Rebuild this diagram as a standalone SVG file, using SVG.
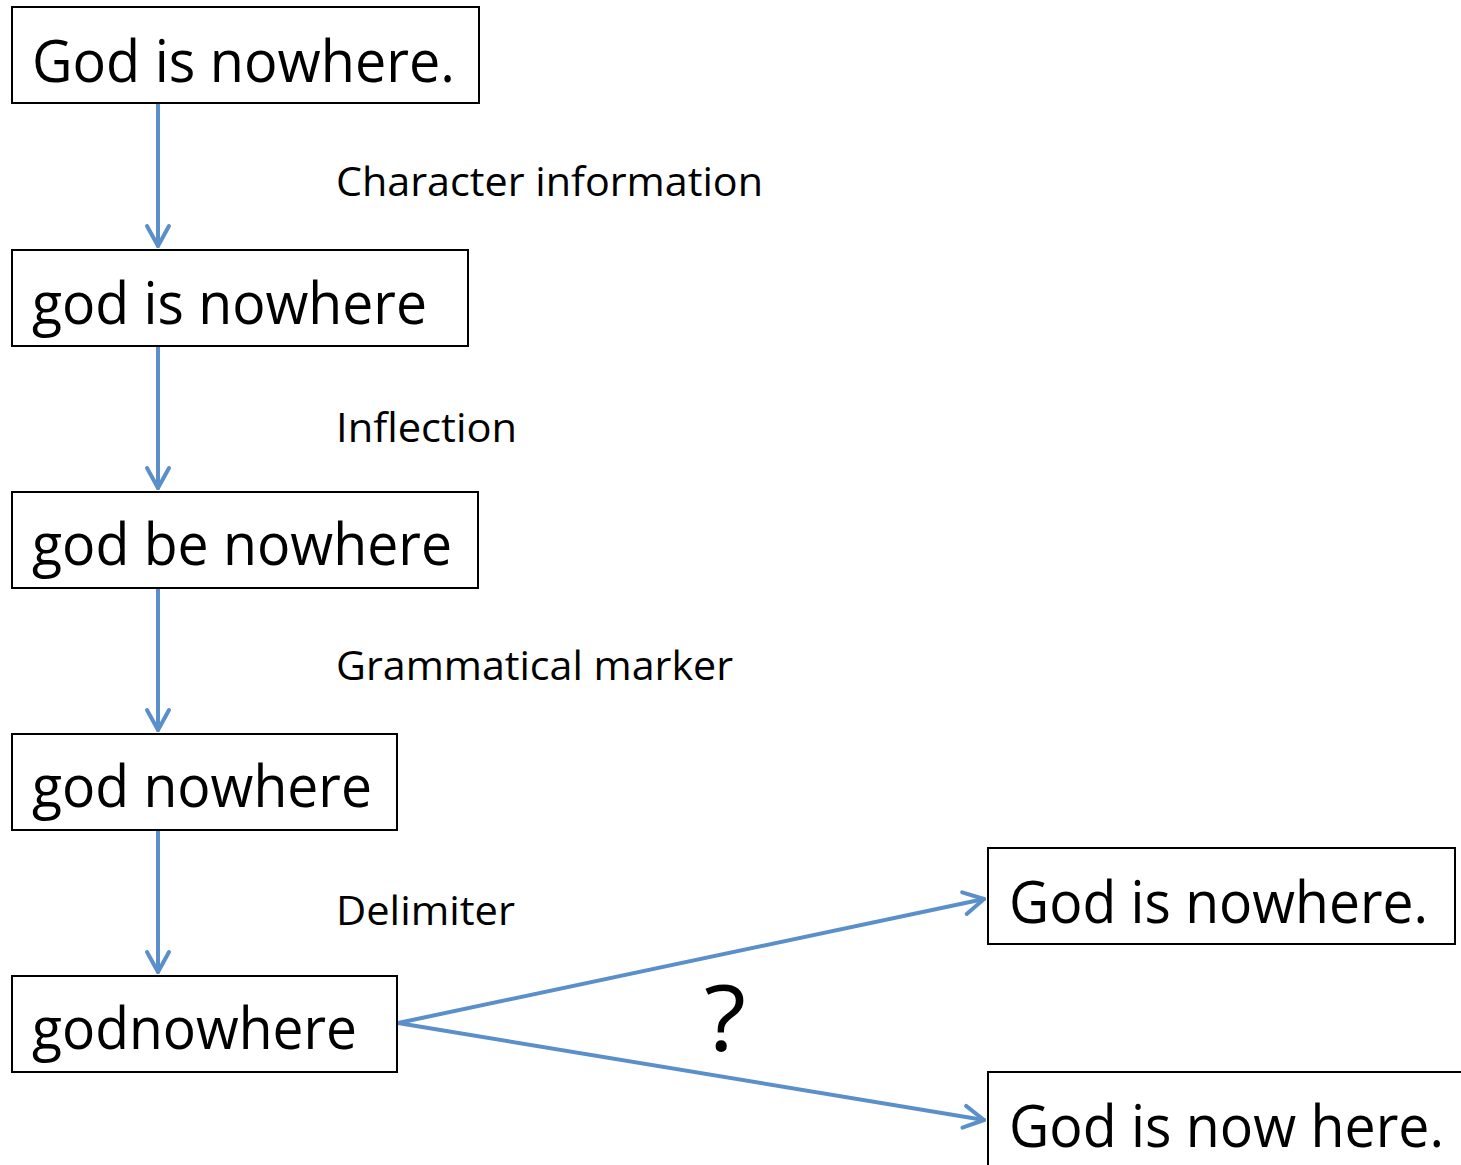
<svg xmlns="http://www.w3.org/2000/svg" width="1461" height="1165" viewBox="0 0 1461 1165">
<style>
.box{fill:#fff;stroke:#000;stroke-width:2}
.t{font-family:"Open Sans","Noto Sans","Liberation Sans",sans-serif;font-size:58px;fill:#000}
.l{font-family:"Open Sans","Noto Sans","Liberation Sans",sans-serif;font-size:41px;fill:#000}
.c{fill:none;stroke:#5b8fc9;stroke-width:4;stroke-linecap:round}
</style>
<defs>
<marker id="ah" viewBox="0 0 14 14" refX="12" refY="7" markerWidth="14" markerHeight="14" markerUnits="userSpaceOnUse" orient="auto">
<path d="M1,1 L12,7 L1,13" fill="none" stroke="#5b8fc9" stroke-width="1" stroke-linecap="round" stroke-linejoin="round"/>
</marker>
<marker id="a" viewBox="-24 -14 28 28" refX="0" refY="0" markerWidth="28" markerHeight="28" markerUnits="userSpaceOnUse" orient="auto">
<path d="M-20,-11 L0,0 L-20,11" fill="none" stroke="#5b8fc9" stroke-width="4" stroke-linecap="round" stroke-linejoin="round"/>
</marker>
</defs>
<g id="connectors">
<line class="c" x1="158" y1="104" x2="158" y2="246" marker-end="url(#a)"/>
<line class="c" x1="158" y1="347" x2="158" y2="488" marker-end="url(#a)"/>
<line class="c" x1="158" y1="589" x2="158" y2="730" marker-end="url(#a)"/>
<line class="c" x1="158" y1="831" x2="158" y2="972" marker-end="url(#a)"/>
<line class="c" x1="398" y1="1023" x2="984" y2="899" marker-end="url(#a)"/>
<line class="c" x1="398" y1="1023" x2="984" y2="1120" marker-end="url(#a)"/>
</g>
<g id="labels">
<text class="l" x="336" y="196" textLength="427" lengthAdjust="spacingAndGlyphs">Character information</text>
<text class="l" x="336" y="442" textLength="181" lengthAdjust="spacingAndGlyphs">Inflection</text>
<text class="l" x="336" y="680" textLength="397" lengthAdjust="spacingAndGlyphs">Grammatical marker</text>
<text class="l" x="336" y="925" textLength="179" lengthAdjust="spacingAndGlyphs">Delimiter</text>
<text x="704" y="1051" style="font-family:'Open Sans','Noto Sans',sans-serif;font-size:92px" textLength="42" lengthAdjust="spacingAndGlyphs">?</text>
</g>
<g id="n1"><rect class="box" x="12" y="7" width="467" height="96"/><text class="t" x="32" y="82" textLength="423" lengthAdjust="spacingAndGlyphs">God is nowhere.</text></g>
<g id="n2"><rect class="box" x="12" y="250" width="456" height="96"/><text class="t" x="32" y="324" textLength="395" lengthAdjust="spacingAndGlyphs">god is nowhere</text></g>
<g id="n3"><rect class="box" x="12" y="492" width="466" height="96"/><text class="t" x="32" y="565" textLength="420" lengthAdjust="spacingAndGlyphs">god be nowhere</text></g>
<g id="n4"><rect class="box" x="12" y="734" width="385" height="96"/><text class="t" x="32" y="807" textLength="340" lengthAdjust="spacingAndGlyphs">god nowhere</text></g>
<g id="n5"><rect class="box" x="12" y="976" width="385" height="96"/><text class="t" x="32" y="1049" textLength="325" lengthAdjust="spacingAndGlyphs">godnowhere</text></g>
<g id="n6"><rect class="box" x="988" y="848" width="467" height="96"/><text class="t" x="1009" y="923" textLength="419" lengthAdjust="spacingAndGlyphs">God is nowhere.</text></g>
<g id="n7"><rect class="box" x="988" y="1072" width="520" height="150"/><text class="t" x="1009" y="1147" textLength="435" lengthAdjust="spacingAndGlyphs">God is now here.</text></g>
</svg>
